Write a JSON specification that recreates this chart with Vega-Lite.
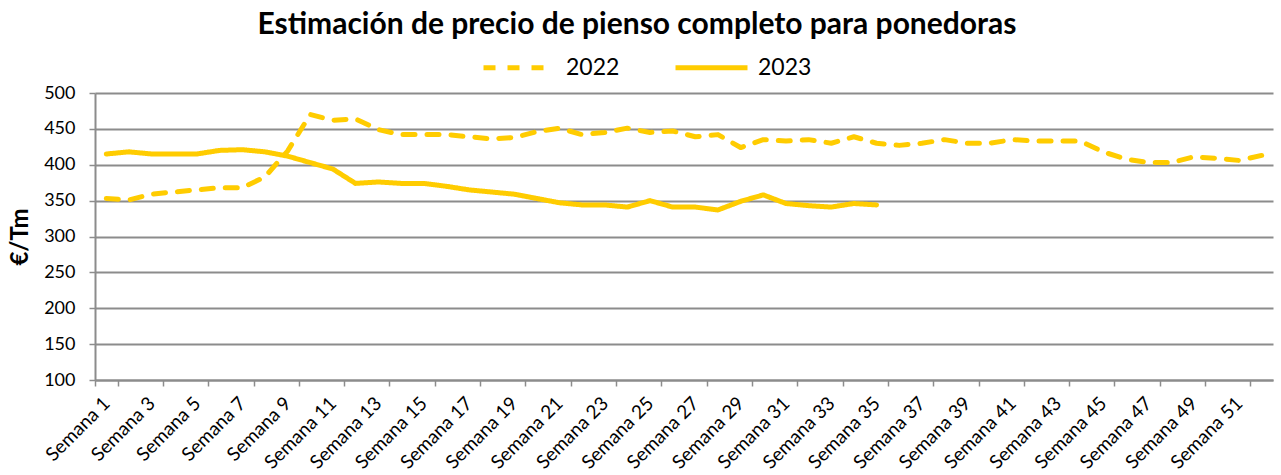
{
  "$schema": "https://vega.github.io/schema/vega-lite/v6.json",
  "width": 1178,
  "height": 287,
  "autosize": "none",
  "padding": {"left": 95, "top": 93, "right": 8, "bottom": 95},
  "background": "white",
  "title": {
    "text": "Estimación de precio de pienso completo para ponedoras",
    "font": "Lato",
    "fontSize": 30,
    "fontWeight": "bold",
    "color": "#000000",
    "anchor": "middle",
    "frame": "group",
    "dx": -47,
    "offset": -11
  },
  "data": {
    "values": [
      {"semana": "Semana 1", "year": "2022", "precio": 353},
      {"semana": "Semana 2", "year": "2022", "precio": 351},
      {"semana": "Semana 3", "year": "2022", "precio": 359},
      {"semana": "Semana 4", "year": "2022", "precio": 362},
      {"semana": "Semana 5", "year": "2022", "precio": 365},
      {"semana": "Semana 6", "year": "2022", "precio": 368},
      {"semana": "Semana 7", "year": "2022", "precio": 368},
      {"semana": "Semana 8", "year": "2022", "precio": 383},
      {"semana": "Semana 9", "year": "2022", "precio": 419},
      {"semana": "Semana 10", "year": "2022", "precio": 470},
      {"semana": "Semana 11", "year": "2022", "precio": 462},
      {"semana": "Semana 12", "year": "2022", "precio": 464},
      {"semana": "Semana 13", "year": "2022", "precio": 449},
      {"semana": "Semana 14", "year": "2022", "precio": 442},
      {"semana": "Semana 15", "year": "2022", "precio": 442},
      {"semana": "Semana 16", "year": "2022", "precio": 442},
      {"semana": "Semana 17", "year": "2022", "precio": 439},
      {"semana": "Semana 18", "year": "2022", "precio": 436},
      {"semana": "Semana 19", "year": "2022", "precio": 438},
      {"semana": "Semana 20", "year": "2022", "precio": 446},
      {"semana": "Semana 21", "year": "2022", "precio": 451},
      {"semana": "Semana 22", "year": "2022", "precio": 442},
      {"semana": "Semana 23", "year": "2022", "precio": 445},
      {"semana": "Semana 24", "year": "2022", "precio": 451},
      {"semana": "Semana 25", "year": "2022", "precio": 445},
      {"semana": "Semana 26", "year": "2022", "precio": 447},
      {"semana": "Semana 27", "year": "2022", "precio": 439},
      {"semana": "Semana 28", "year": "2022", "precio": 442},
      {"semana": "Semana 29", "year": "2022", "precio": 424},
      {"semana": "Semana 30", "year": "2022", "precio": 435},
      {"semana": "Semana 31", "year": "2022", "precio": 433},
      {"semana": "Semana 32", "year": "2022", "precio": 435},
      {"semana": "Semana 33", "year": "2022", "precio": 430},
      {"semana": "Semana 34", "year": "2022", "precio": 439},
      {"semana": "Semana 35", "year": "2022", "precio": 430},
      {"semana": "Semana 36", "year": "2022", "precio": 427},
      {"semana": "Semana 37", "year": "2022", "precio": 430},
      {"semana": "Semana 38", "year": "2022", "precio": 435},
      {"semana": "Semana 39", "year": "2022", "precio": 430},
      {"semana": "Semana 40", "year": "2022", "precio": 430},
      {"semana": "Semana 41", "year": "2022", "precio": 435},
      {"semana": "Semana 42", "year": "2022", "precio": 433},
      {"semana": "Semana 43", "year": "2022", "precio": 433},
      {"semana": "Semana 44", "year": "2022", "precio": 433},
      {"semana": "Semana 45", "year": "2022", "precio": 418},
      {"semana": "Semana 46", "year": "2022", "precio": 408},
      {"semana": "Semana 47", "year": "2022", "precio": 403},
      {"semana": "Semana 48", "year": "2022", "precio": 403},
      {"semana": "Semana 49", "year": "2022", "precio": 411},
      {"semana": "Semana 50", "year": "2022", "precio": 409},
      {"semana": "Semana 51", "year": "2022", "precio": 406},
      {"semana": "Semana 52", "year": "2022", "precio": 413},
      {"semana": "Semana 1", "year": "2023", "precio": 415},
      {"semana": "Semana 2", "year": "2023", "precio": 418},
      {"semana": "Semana 3", "year": "2023", "precio": 415},
      {"semana": "Semana 4", "year": "2023", "precio": 415},
      {"semana": "Semana 5", "year": "2023", "precio": 415},
      {"semana": "Semana 6", "year": "2023", "precio": 420},
      {"semana": "Semana 7", "year": "2023", "precio": 421},
      {"semana": "Semana 8", "year": "2023", "precio": 418},
      {"semana": "Semana 9", "year": "2023", "precio": 412},
      {"semana": "Semana 10", "year": "2023", "precio": 403},
      {"semana": "Semana 11", "year": "2023", "precio": 394},
      {"semana": "Semana 12", "year": "2023", "precio": 374},
      {"semana": "Semana 13", "year": "2023", "precio": 376},
      {"semana": "Semana 14", "year": "2023", "precio": 374},
      {"semana": "Semana 15", "year": "2023", "precio": 374},
      {"semana": "Semana 16", "year": "2023", "precio": 370},
      {"semana": "Semana 17", "year": "2023", "precio": 365},
      {"semana": "Semana 18", "year": "2023", "precio": 362},
      {"semana": "Semana 19", "year": "2023", "precio": 359},
      {"semana": "Semana 20", "year": "2023", "precio": 353},
      {"semana": "Semana 21", "year": "2023", "precio": 347},
      {"semana": "Semana 22", "year": "2023", "precio": 344},
      {"semana": "Semana 23", "year": "2023", "precio": 344},
      {"semana": "Semana 24", "year": "2023", "precio": 341},
      {"semana": "Semana 25", "year": "2023", "precio": 350},
      {"semana": "Semana 26", "year": "2023", "precio": 341},
      {"semana": "Semana 27", "year": "2023", "precio": 341},
      {"semana": "Semana 28", "year": "2023", "precio": 337},
      {"semana": "Semana 29", "year": "2023", "precio": 349},
      {"semana": "Semana 30", "year": "2023", "precio": 358},
      {"semana": "Semana 31", "year": "2023", "precio": 346},
      {"semana": "Semana 32", "year": "2023", "precio": 343},
      {"semana": "Semana 33", "year": "2023", "precio": 341},
      {"semana": "Semana 34", "year": "2023", "precio": 346},
      {"semana": "Semana 35", "year": "2023", "precio": 344}
    ]
  },
  "mark": {"type": "line", "strokeWidth": 5, "strokeCap": "round", "strokeJoin": "round"},
  "encoding": {
    "x": {
      "field": "semana",
      "type": "nominal",
      "sort": null,
      "bandPosition": 0.5,
      "scale": {"type": "band", "paddingInner": 0, "paddingOuter": 0},
      "axis": {
        "title": null,
        "values": ["Semana 1","Semana 3","Semana 5","Semana 7","Semana 9","Semana 11","Semana 13","Semana 15","Semana 17","Semana 19","Semana 21","Semana 23","Semana 25","Semana 27","Semana 29","Semana 31","Semana 33","Semana 35","Semana 37","Semana 39","Semana 41","Semana 43","Semana 45","Semana 47","Semana 49","Semana 51"],
        "labelAngle": -45,
        "labelAlign": "right",
        "labelBaseline": "middle",
        "labelFont": "Lato",
        "labelFontSize": 19,
        "labelColor": "#000000",
        "labelPadding": 14,
        "labelOverlap": false,
        "domainColor": "#8c8c8c",
        "domainWidth": 2,
        "tickColor": "#8c8c8c",
        "tickWidth": 1.5,
        "tickSize": 6,
        "tickBand": "extent",
        "grid": false
      }
    },
    "y": {
      "field": "precio",
      "type": "quantitative",
      "scale": {"domain": [100, 500], "nice": false, "zero": false},
      "axis": {
        "title": "€/Tm",
        "titleFont": "Lato",
        "titleFontSize": 24,
        "titleFontWeight": "bold",
        "titleColor": "#000000",
        "titlePadding": 11,
        "values": [100, 150, 200, 250, 300, 350, 400, 450, 500],
        "labelFont": "Lato",
        "labelFontSize": 18,
        "labelColor": "#000000",
        "labelPadding": 14,
        "domainColor": "#8c8c8c",
        "domainWidth": 2,
        "tickColor": "#8c8c8c",
        "tickWidth": 1.5,
        "tickSize": 6,
        "grid": true,
        "gridColor": "#8c8c8c",
        "gridWidth": 2
      }
    },
    "color": {
      "field": "year",
      "type": "nominal",
      "scale": {"domain": ["2022", "2023"], "range": ["#FFCC00", "#FFCC00"]},
      "legend": {
        "title": null,
        "orient": "none",
        "direction": "horizontal",
        "legendX": 386,
        "legendY": -64,
        "labelFont": "Lato",
        "labelFontSize": 23,
        "labelColor": "#000000",
        "symbolType": "stroke",
        "symbolSize": 5184,
        "symbolStrokeWidth": 5,
        "columnPadding": 45,
        "labelOffset": 8
      }
    },
    "strokeDash": {
      "field": "year",
      "type": "nominal",
      "scale": {"domain": ["2022", "2023"], "range": [[12, 12], [1, 0]]},
      "legend": {
        "title": null,
        "orient": "none",
        "direction": "horizontal",
        "legendX": 386,
        "legendY": -64,
        "labelFont": "Lato",
        "labelFontSize": 23,
        "labelColor": "#000000",
        "symbolType": "stroke",
        "symbolSize": 5184,
        "symbolStrokeWidth": 5,
        "columnPadding": 45,
        "labelOffset": 8
      }
    }
  },
  "config": {"view": {"stroke": null}}
}
